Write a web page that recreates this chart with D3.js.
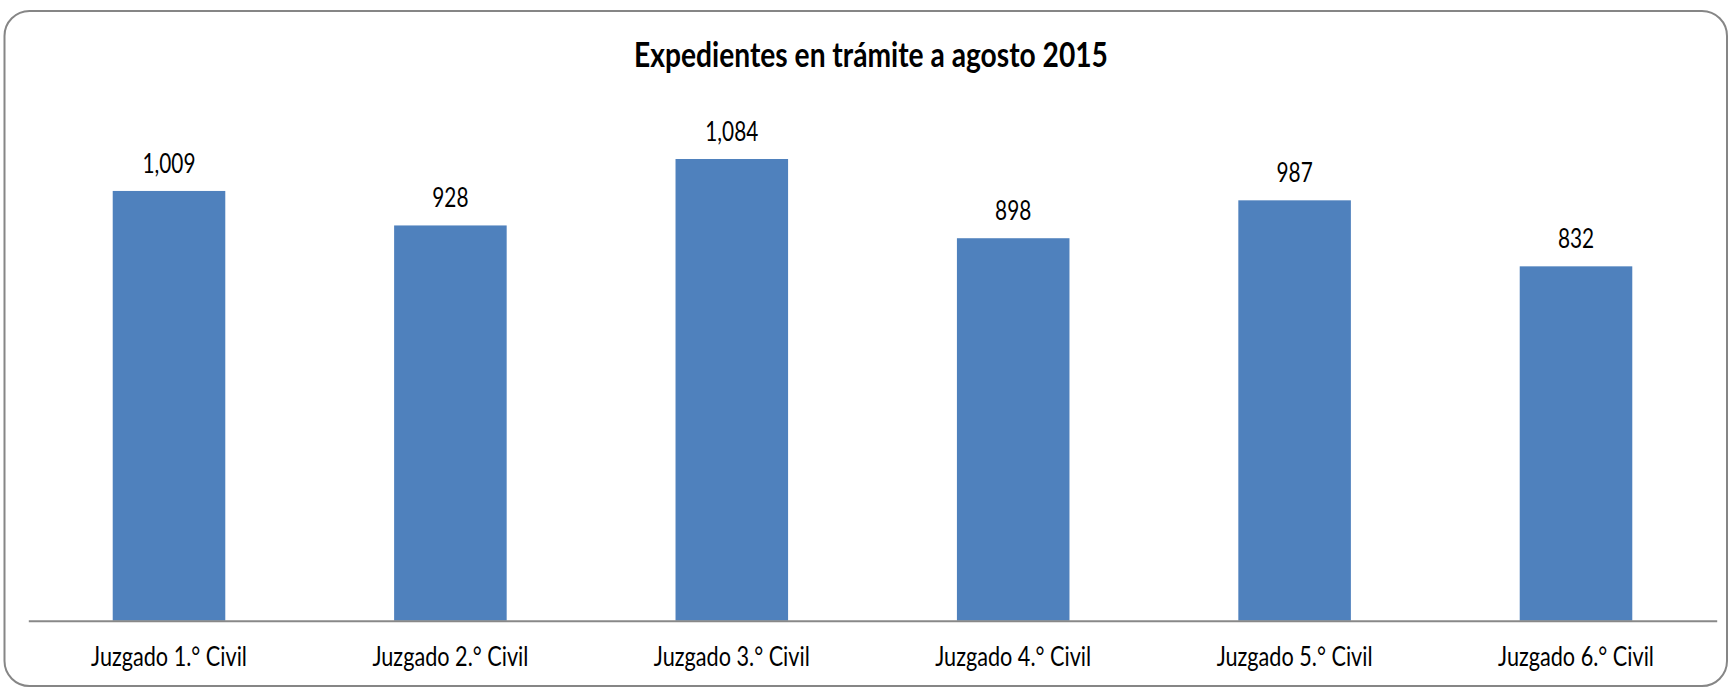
<!DOCTYPE html>
<html>
<head>
<meta charset="utf-8">
<script src="https://cdn.jsdelivr.net/npm/d3@7"></script>
<style>
  html, body { margin: 0; padding: 0; background: #fff; }
  svg { display: block; }
  text { font-family: Lato, "Open Sans", sans-serif; fill: #000; }
</style>
</head>
<body>
<svg id="chart" width="1729" height="688"></svg>
<script>
const title = "Expedientes en trámite a agosto 2015";
const categories = ["Juzgado 1.° Civil", "Juzgado 2.° Civil", "Juzgado 3.° Civil",
                    "Juzgado 4.° Civil", "Juzgado 5.° Civil", "Juzgado 6.° Civil"];
const values = [1009, 928, 1084, 898, 987, 832];
const yDomain = [0, 1200];

const svg = d3.select("#chart");
const plot = { left: 28.3, right: 1716.7, top: 109.6, bottom: 620.7 };

// outer frame
svg.append("rect")
  .attr("x", 4.5).attr("y", 11).attr("width", 1722.5).attr("height", 675)
  .attr("rx", 25).attr("ry", 25)
  .attr("fill", "#fff").attr("stroke", "#868686").attr("stroke-width", 2);

const x = d3.scaleBand().domain(categories)
  .range([plot.left, plot.right]).paddingInner(0.6).paddingOuter(0.3);
const y = d3.scaleLinear().domain(yDomain).range([plot.bottom, plot.top]);

const data = categories.map((c, i) => ({ c, v: values[i] }));

// bars
svg.append("g").selectAll("rect").data(data).join("rect")
  .attr("x", d => x(d.c)).attr("width", x.bandwidth())
  .attr("y", d => y(d.v)).attr("height", d => y(0) - y(d.v))
  .attr("fill", "#4F81BD");

// axis
const xAxis = d3.axisBottom(x).tickSize(0).tickPadding(0);
const ax = svg.append("g").attr("transform", `translate(0,${y(0)})`).call(xAxis);
ax.select(".domain").attr("stroke", "#888").attr("stroke-width", 2);
ax.selectAll(".tick text").remove();

function squeeze(sel, sx) {
  sel.each(function() {
    const t = d3.select(this);
    const cx = +t.attr("data-cx"), by = +t.attr("data-by");
    t.attr("x", 0).attr("y", 0)
     .attr("transform", `translate(${cx},${by}) scale(${sx},1)`);
  });
}
const fmt = d3.format(",");

// category labels
const catLabels = svg.append("g").selectAll("text").data(data).join("text")
  .attr("data-cx", d => x(d.c) + x.bandwidth() / 2)
  .attr("data-by", 666)
  .attr("text-anchor", "middle")
  .attr("font-size", 27.5)
  .text(d => d.c);
squeeze(catLabels, 156 / catLabels.node().getComputedTextLength());

// value labels
const valLabels = svg.append("g").selectAll("text").data(data).join("text")
  .attr("data-cx", d => x(d.c) + x.bandwidth() / 2)
  .attr("data-by", d => y(d.v) - 18.4)
  .attr("text-anchor", "middle")
  .attr("font-size", 26.5)
  .text(d => fmt(d.v));
squeeze(valLabels, 53 / valLabels.node().getComputedTextLength());

// title
const tt = svg.append("text")
  .attr("data-cx", 871).attr("data-by", 66.7)
  .attr("text-anchor", "middle")
  .attr("font-size", 34).attr("font-weight", "bold")
  .text(title);
squeeze(tt, 474 / tt.node().getComputedTextLength());
</script>
</body>
</html>
